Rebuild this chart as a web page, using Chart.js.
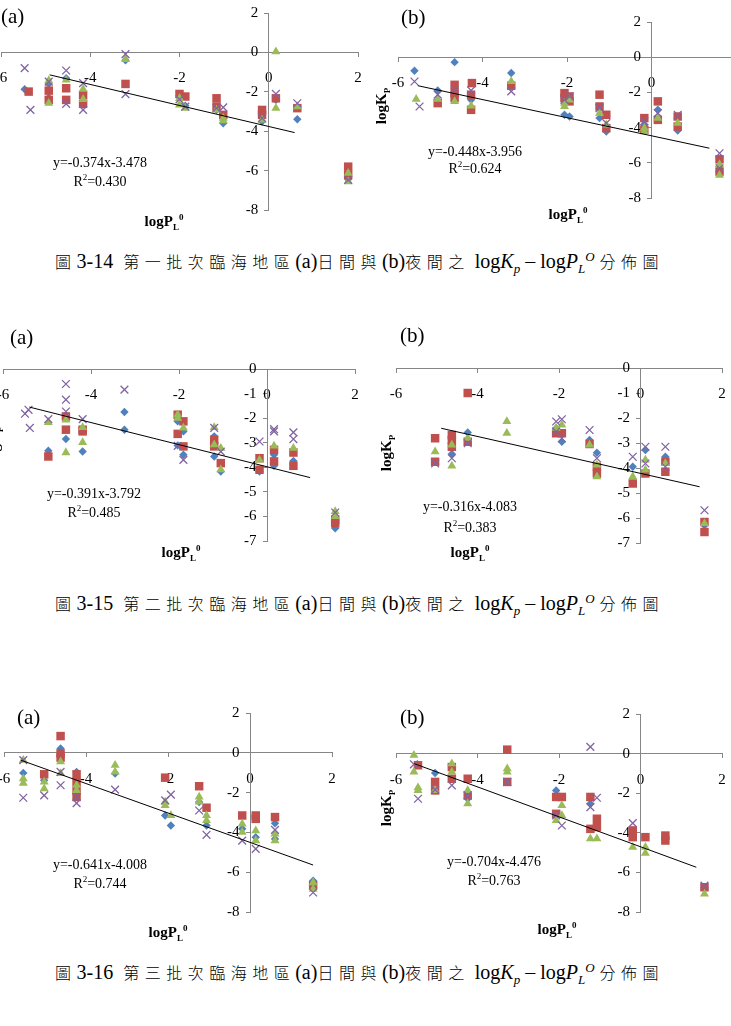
<!DOCTYPE html>
<html>
<head>
<meta charset="utf-8">
<script src="https://cdn.jsdelivr.net/npm/chart.js@4.4.1/dist/chart.umd.min.js"></script>
<style>
  body { margin: 0; width: 731px; height: 1026px; overflow: hidden; background: #fff; position: relative; font-family: 'Liberation Serif', serif; color: #000; }
  canvas { position: absolute; }
  .lbl { position: absolute; white-space: nowrap; transform: translate(-50%, -50%); font-size: 14px; line-height: 1; }
  .tag { position: absolute; font-size: 21px; line-height: 1; transform: translateY(-50%); }
  .ttl { position: absolute; white-space: nowrap; transform: translate(-50%, -50%); font-size: 15px; font-weight: bold; line-height: 1; }
  .ttl.rot { transform: translate(-50%, -50%) rotate(-90deg); }
  .ttl sub, .ttl sup, .lbl sup { font-size: 9px; }
  .cap { position: absolute; white-space: nowrap; font-size: 20px; line-height: 1; transform: translateY(-50%);
         font-family: 'Liberation Serif', serif; }
  .cap .zh { font-family: 'Noto Sans CJK TC', sans-serif; font-weight: 300; font-size: 16px; letter-spacing: 5.5px; }
  .cap sub, .cap sup { font-size: 13px; }
</style>
</head>
<body>
<script>
/* -------------------------------------------------------------
 * DATA
 * ------------------------------------------------------------- */
const xTicks = [ -6, -4, -2, 0, 2 ];

// 圖 3-14 (a) 日間
const a14BlueX = [ -5.47, -4.93, -4.93, -4.54, -4.16, -3.21, -2.0, -1.87, -1.17, -1.02, -0.15, 0.16, 0.64, 1.78 ];
const a14BlueY = [ -1.87, -1.6, -2.3, -1.31, -2.07, -0.4, -2.28, -2.71, -2.92, -3.6, -3.51, -2.41, -3.39, -6.44 ];
const a14RedX = [ -5.38, -4.93, -4.93, -4.54, -4.54, -4.16, -4.16, -3.21, -2.0, -1.87, -1.17, -1.17, -1.02, -0.15, -0.15, 0.16, 0.64, 1.78, 1.78 ];
const a14RedY = [ -1.99, -1.94, -2.41, -1.82, -2.41, -2.16, -2.61, -1.6, -2.11, -2.24, -2.33, -2.75, -3.17, -2.92, -3.17, -2.33, -2.83, -5.8, -6.22 ];
const a14GreenX = [ -4.93, -4.93, -4.54, -4.16, -4.16, -3.21, -2.0, -2.0, -1.87, -1.17, -1.02, -1.02, -0.15, 0.16, 0.16, 0.64, 1.78, 1.78 ];
const a14GreenY = [ -1.43, -2.58, -1.4, -1.87, -2.38, -0.35, -2.33, -2.66, -2.83, -2.92, -3.34, -3.46, -3.43, 0.04, -2.83, -2.75, -6.13, -6.56 ];
const a14PurpleX = [ -5.47, -5.34, -4.93, -4.54, -4.54, -4.16, -4.16, -3.21, -3.21, -2.0, -1.87, -1.17, -1.02, -0.15, 0.16, 0.64, 1.78 ];
const a14PurpleY = [ -0.8, -2.92, -1.48, -0.92, -2.61, -1.56, -2.92, -0.09, -2.12, -2.38, -2.75, -2.83, -2.79, -3.34, -2.11, -2.58, -6.47 ];
const a14TrendX = [ -4.91, 0.58 ];
const a14TrendY = [ -1.14, -4.07 ];

// 圖 3-14 (b) 夜間
const b14BlueX = [ -5.61, -5.06, -4.66, -4.66, -4.27, -3.32, -2.06, -1.94, -1.23, -1.07, -0.17, 0.15, 0.62, 1.61 ];
const b14BlueY = [ -0.77, -1.89, -0.28, -1.94, -2.42, -0.9, -3.27, -3.37, -3.46, -4.22, -3.84, -2.99, -4.17, -6.2 ];
const b14RedX = [ -5.06, -4.66, -4.66, -4.66, -4.25, -4.27, -4.27, -3.32, -2.06, -2.06, -1.94, -1.94, -1.23, -1.23, -1.07, -1.07, -0.17, -0.17, 0.15, 0.15, 0.62, 0.62, 1.61, 1.61 ];
const b14RedY = [ -2.61, -1.57, -2.04, -2.32, -1.47, -2.13, -2.99, -1.62, -2.04, -2.32, -2.23, -2.51, -2.13, -2.8, -3.27, -4.03, -3.46, -4.13, -2.51, -3.56, -3.37, -3.94, -5.8, -6.5 ];
const b14GreenX = [ -5.57, -5.06, -4.66, -4.27, -3.32, -2.06, -2.06, -1.94, -1.23, -1.07, -0.17, -0.17, 0.15, 0.62, 1.61, 1.61 ];
const b14GreenY = [ -2.38, -2.38, -2.51, -2.76, -1.38, -2.61, -2.8, -2.42, -3.18, -3.84, -4.03, -4.22, -3.46, -3.75, -6.1, -6.7 ];
const b14PurpleX = [ -5.61, -5.49, -5.06, -4.66, -4.27, -3.32, -2.06, -1.94, -1.23, -1.07, -0.17, 0.15, 0.62, 1.61, 1.61 ];
const b14PurpleY = [ -1.38, -2.8, -2.13, -1.85, -1.89, -1.94, -2.42, -2.23, -2.89, -3.75, -3.65, -3.18, -3.27, -5.46, -6.31 ];
const b14TrendX = [ -5.53, 1.37 ];
const b14TrendY = [ -1.62, -5.17 ];

// 圖 3-15 (a) 日間
const a15BlueX = [ -4.97, -4.57, -4.19, -3.24, -3.24, -2.03, -2.03, -1.9, -1.9, -1.2, -1.2, -1.05, -0.17, 0.16, 0.16, 0.6, 1.55 ];
const a15BlueY = [ -3.33, -2.85, -3.36, -1.75, -2.47, -2.13, -3.11, -2.54, -3.49, -2.74, -3.56, -4.17, -4.17, -3.49, -3.94, -3.74, -6.48 ];
const a15RedX = [ -4.97, -4.57, -4.57, -4.19, -4.19, -2.03, -2.03, -1.9, -1.9, -1.2, -1.2, -1.05, -0.17, -0.17, 0.16, 0.16, 0.6, 0.6, 1.55, 1.55 ];
const a15RedY = [ -3.56, -1.93, -2.47, -2.47, -2.54, -1.86, -2.64, -2.13, -3.15, -2.88, -3.15, -3.83, -3.63, -4.1, -3.29, -3.76, -3.4, -3.94, -6.14, -6.28 ];
const a15GreenX = [ -4.97, -4.57, -4.57, -4.19, -4.19, -2.03, -2.03, -1.9, -1.2, -1.2, -1.05, -1.05, -0.17, 0.16, 0.6, 1.55, 1.55 ];
const a15GreenY = [ -2.17, -2.07, -3.4, -2.38, -2.99, -1.86, -2.0, -2.4, -2.38, -3.08, -3.22, -4.1, -3.7, -3.13, -3.22, -5.8, -6.0 ];
const a15PurpleX = [ -5.5, -5.42, -5.39, -4.97, -4.57, -4.57, -4.57, -4.19, -3.24, -2.03, -1.9, -1.2, -1.05, -0.17, 0.16, 0.16, 0.6, 0.6, 1.55 ];
const a15PurpleY = [ -1.82, -1.66, -2.4, -2.04, -0.61, -1.25, -1.73, -2.04, -0.84, -3.13, -3.7, -2.4, -3.36, -2.95, -2.45, -2.54, -2.58, -2.85, -5.84 ];
const a15TrendX = [ -5.4, 0.98 ];
const a15TrendY = [ -1.55, -4.42 ];

// 圖 3-15 (b) 夜間
const b15BlueX = [ -4.63, -4.24, -2.07, -1.93, -1.25, -1.07, -0.19, 0.12, 0.61, 1.57 ];
const b15BlueY = [ -3.44, -2.58, -2.41, -2.95, -2.88, -3.39, -3.95, -3.28, -3.55, -6.29 ];
const b15RedX = [ -5.04, -5.04, -4.63, -4.63, -4.63, -4.24, -4.24, -2.07, -1.93, -1.25, -1.07, -1.07, -0.19, 0.12, 0.61, 0.61, 1.57, 1.57 ];
const b15RedY = [ -2.81, -3.75, -2.68, -2.88, -3.15, -1.0, -2.95, -2.61, -2.61, -3.04, -3.95, -4.22, -4.62, -4.22, -3.75, -4.15, -6.16, -6.56 ];
const b15GreenX = [ -5.04, -4.63, -4.63, -4.24, -3.28, -3.28, -2.07, -1.93, -1.25, -1.07, -1.07, -0.19, 0.12, 0.12, 0.61, 1.57 ];
const b15GreenY = [ -3.35, -3.08, -3.92, -2.81, -2.14, -2.61, -2.41, -2.28, -3.08, -3.88, -4.35, -4.35, -3.68, -4.08, -3.82, -6.22 ];
const b15PurpleX = [ -5.04, -4.63, -4.24, -2.07, -2.07, -1.93, -1.93, -1.25, -1.07, -0.19, 0.12, 0.12, 0.61, 0.61, 1.57 ];
const b15PurpleY = [ -3.82, -3.61, -3.01, -2.14, -2.54, -2.05, -2.81, -2.48, -3.61, -3.55, -3.15, -3.82, -3.15, -3.95, -5.69 ];
const b15TrendX = [ -4.89, 1.45 ];
const b15TrendY = [ -2.41, -4.75 ];

// 圖 3-16 (a) 日間
const a16BlueX = [ -5.53, -5.02, -4.62, -4.23, -3.29, -2.07, -1.93, -1.24, -1.06, -0.19, 0.14, 0.61, 0.61, 1.54 ];
const a16BlueY = [ -1.01, -1.38, 0.22, -0.96, -1.04, -3.15, -3.65, -2.47, -3.65, -3.82, -4.24, -3.54, -4.33, -6.43 ];
const a16RedX = [ -5.02, -4.62, -4.62, -4.62, -4.23, -4.23, -4.23, -4.23, -2.07, -1.24, -1.06, -0.19, 0.14, 0.14, 0.61, 1.54 ];
const a16RedY = [ -1.08, 0.84, -0.03, -0.24, -1.08, -1.46, -1.89, -2.22, -1.25, -1.68, -2.76, -3.15, -3.15, -3.32, -3.23, -6.65 ];
const a16GreenX = [ -5.53, -5.53, -5.53, -5.02, -5.02, -4.62, -4.62, -4.23, -4.23, -3.29, -3.29, -2.07, -2.07, -1.93, -1.24, -1.24, -1.06, -1.06, -0.19, -0.19, 0.14, 0.14, 0.61, 0.61, 1.54, 1.54 ];
const a16GreenY = [ -0.37, -1.3, -1.52, -1.46, -1.8, -0.45, -1.04, -1.63, -1.89, -0.62, -0.96, -2.47, -2.64, -3.15, -2.22, -2.47, -3.15, -3.4, -3.57, -3.99, -3.91, -4.41, -4.07, -4.41, -6.52, -6.85 ];
const a16PurpleX = [ -5.53, -5.53, -5.02, -4.62, -4.62, -4.23, -4.23, -3.29, -2.07, -1.93, -1.24, -1.06, -0.19, 0.14, 0.61, 1.54 ];
const a16PurpleY = [ -0.37, -2.26, -2.14, -0.96, -1.63, -2.22, -2.53, -1.85, -2.39, -2.1, -2.9, -4.12, -4.41, -4.83, -3.87, -7.02 ];
const a16TrendX = [ -5.59, 1.54 ];
const a16TrendY = [ -0.37, -5.64 ];

// 圖 3-16 (b) 夜間
const b16BlueX = [ -5.04, -4.24, -2.07, -1.23, 0.12, 1.57 ];
const b16BlueY = [ -0.98, -2.28, -1.86, -2.53, -4.22, -6.75 ];
const b16RedX = [ -5.46, -5.04, -5.04, -4.63, -4.63, -4.24, -4.24, -3.27, -3.27, -2.07, -2.07, -1.93, -1.23, -1.23, -1.07, -1.07, -0.19, -0.19, 0.12, 0.61, 0.61, 1.57 ];
const b16RedY = [ -0.59, -1.43, -1.86, -0.68, -1.27, -1.27, -2.11, 0.2, -1.43, -2.19, -3.04, -2.19, -2.19, -3.8, -3.29, -3.71, -3.88, -4.22, -4.22, -4.14, -4.39, -6.75 ];
const b16GreenX = [ -5.56, -5.56, -5.46, -5.46, -5.04, -4.63, -4.63, -4.24, -4.24, -3.27, -3.27, -2.07, -1.93, -1.93, -1.23, -1.07, -0.19, 0.12, 0.12, 1.57 ];
const b16GreenY = [ -0.08, -0.93, -1.72, -1.86, -1.86, -0.51, -0.93, -1.86, -2.53, -0.76, -0.93, -3.38, -2.62, -3.12, -4.3, -4.3, -4.73, -4.73, -5.03, -7.09 ];
const b16PurpleX = [ -5.56, -5.46, -5.04, -4.63, -4.24, -3.27, -2.07, -1.93, -1.23, -1.23, -1.07, -0.19, 1.57 ];
const b16PurpleY = [ -0.54, -2.28, -1.82, -1.6, -2.11, -1.43, -3.12, -3.63, 0.34, -2.7, -2.23, -3.51, -6.67 ];
const b16TrendX = [ -5.55, 1.37 ];
const b16TrendY = [ -0.51, -5.74 ];

/* -------------------------------------------------------------
 * PANEL SETUP
 * ------------------------------------------------------------- */
const AXIS = '#868686';
const TICK_FONT = { family: 'Liberation Serif', size: 15 };

function pts( xs, ys ) {
	return xs.map( ( x, i ) => ( { x, y: ys[ i ] } ) );
}

function addPanel( p ) {
	const pad = 24;
	const [ l, r, t, b ] = p.area;
	const cv = document.createElement( 'canvas' );
	cv.width = Math.round( r - l + 2 * pad );
	cv.height = Math.round( b - t + 2 * pad );
	cv.style.left = ( l - pad ) + 'px';
	cv.style.top = ( t - pad ) + 'px';
	document.body.appendChild( cv );

	const series = ( data, style, color, radius, order ) => ( {
		data,
		pointStyle: style,
		pointRadius: radius,
		pointHoverRadius: radius,
		backgroundColor: color,
		borderColor: color,
		borderWidth: style === 'crossRot' ? 1.3 : 0,
		order,
		clip: false
	} );

	new Chart( cv, {
		type: 'scatter',
		data: {
			datasets: [
				{
					data: pts( p.trendX, p.trendY ),
					showLine: true,
					borderColor: '#000',
					borderWidth: 1,
					pointRadius: 0,
					order: 0,
					clip: false
				},
				series( pts( p.purpleX, p.purpleY ), 'crossRot', '#8064A2', 5.5, 1 ),
				series( pts( p.greenX, p.greenY ), 'triangle', '#9BBB59', 5.2, 2 ),
				series( pts( p.redX, p.redY ), 'rect', '#C0504D', 6, 3 ),
				series( pts( p.blueX, p.blueY ), 'rectRot', '#4F81BD', 4.2, 4 )
			]
		},
		options: {
			responsive: false,
			animation: false,
			layout: { padding: pad },
			plugins: { legend: { display: false }, tooltip: { enabled: false } },
			scales: {
				x: {
					type: 'linear',
					min: -6,
					max: 2,
					position: { y: 0 },
					afterFit: ( s ) => { s.height = 0; },
					afterBuildTicks: ( s ) => { s.ticks = xTicks.map( ( v ) => ( { value: v } ) ); },
					ticks: { color: '#000', font: TICK_FONT, padding: 13, maxRotation: 0 },
					grid: { drawOnChartArea: false, tickLength: 4, color: AXIS },
					border: { color: AXIS }
				},
				y: {
					type: 'linear',
					min: p.yTicks[ p.yTicks.length - 1 ],
					max: p.yTicks[ 0 ],
					position: { x: 0 },
					afterFit: ( s ) => { s.width = 0; },
					afterBuildTicks: ( s ) => { s.ticks = p.yTicks.map( ( v ) => ( { value: v } ) ); },
					// labels sit left of the crossing axis, as in Excel
					ticks: { color: '#000', font: TICK_FONT, padding: 4, callback: ( v ) => v + '\u2002\u2009' },
					grid: { drawOnChartArea: false, tickLength: 4, color: AXIS },
					border: { color: AXIS }
				}
			}
		}
	} );
}

function addText( cls, html, x, y ) {
	const d = document.createElement( 'div' );
	d.className = cls;
	d.innerHTML = html;
	d.style.left = x + 'px';
	d.style.top = y + 'px';
	document.body.appendChild( d );
}

const evenTicks = [ 2, 0, -2, -4, -6, -8 ];
const unitTicks = [ 0, -1, -2, -3, -4, -5, -6, -7 ];
const xTitle = 'logP<sub>L</sub><sup>0</sup>';
const yTitle = 'logK<sub>P</sub>';

const panels = [
	{ area: [ 1, 358, 13, 210 ], yTicks: evenTicks,
		blueX: a14BlueX, blueY: a14BlueY, redX: a14RedX, redY: a14RedY,
		greenX: a14GreenX, greenY: a14GreenY, purpleX: a14PurpleX, purpleY: a14PurpleY,
		trendX: a14TrendX, trendY: a14TrendY,
		tag: [ '(a)', 1, 16 ], eq: [ 'y=-0.374x-3.478', 'R<sup>2</sup>=0.430', 100, 163, 181 ],
		xt: [ 164, 222 ], yt: null },
	{ area: [ 398, 736, 22, 198 ], yTicks: evenTicks,
		blueX: b14BlueX, blueY: b14BlueY, redX: b14RedX, redY: b14RedY,
		greenX: b14GreenX, greenY: b14GreenY, purpleX: b14PurpleX, purpleY: b14PurpleY,
		trendX: b14TrendX, trendY: b14TrendY,
		tag: [ '(b)', 401, 17 ], eq: [ 'y=-0.448x-3.956', 'R<sup>2</sup>=0.624', 475, 152, 168 ],
		xt: [ 568, 215 ], yt: [ 383, 106 ] },
	{ area: [ 3, 355, 369, 541 ], yTicks: unitTicks,
		blueX: a15BlueX, blueY: a15BlueY, redX: a15RedX, redY: a15RedY,
		greenX: a15GreenX, greenY: a15GreenY, purpleX: a15PurpleX, purpleY: a15PurpleY,
		trendX: a15TrendX, trendY: a15TrendY,
		tag: [ '(a)', 10, 337 ], eq: [ 'y=-0.391x-3.792', 'R<sup>2</sup>=0.485', 94, 494, 512 ],
		xt: [ 181, 553 ], yt: [ -4, 445 ] },
	{ area: [ 396, 722, 368, 543 ], yTicks: unitTicks,
		blueX: b15BlueX, blueY: b15BlueY, redX: b15RedX, redY: b15RedY,
		greenX: b15GreenX, greenY: b15GreenY, purpleX: b15PurpleX, purpleY: b15PurpleY,
		trendX: b15TrendX, trendY: b15TrendY,
		tag: [ '(b)', 400, 335 ], eq: [ 'y=-0.316x-4.083', 'R<sup>2</sup>=0.383', 470, 507, 527 ],
		xt: [ 470, 553 ], yt: [ 388, 453 ] },
	{ area: [ 4, 332, 713, 912 ], yTicks: evenTicks,
		blueX: a16BlueX, blueY: a16BlueY, redX: a16RedX, redY: a16RedY,
		greenX: a16GreenX, greenY: a16GreenY, purpleX: a16PurpleX, purpleY: a16PurpleY,
		trendX: a16TrendX, trendY: a16TrendY,
		tag: [ '(a)', 17, 717 ], eq: [ 'y=-0.641x-4.008', 'R<sup>2</sup>=0.744', 100, 865, 883 ],
		xt: [ 168, 933 ], yt: null },
	{ area: [ 396, 722, 714, 912 ], yTicks: evenTicks,
		blueX: b16BlueX, blueY: b16BlueY, redX: b16RedX, redY: b16RedY,
		greenX: b16GreenX, greenY: b16GreenY, purpleX: b16PurpleX, purpleY: b16PurpleY,
		trendX: b16TrendX, trendY: b16TrendY,
		tag: [ '(b)', 400, 717 ], eq: [ 'y=-0.704x-4.476', 'R<sup>2</sup>=0.763', 494, 862, 880 ],
		xt: [ 557, 930 ], yt: [ 388, 808 ] }
];

panels.forEach( ( p ) => {
	addPanel( p );
	addText( 'tag', p.tag[ 0 ], p.tag[ 1 ], p.tag[ 2 ] );
	addText( 'lbl', p.eq[ 0 ], p.eq[ 2 ], p.eq[ 3 ] );
	addText( 'lbl', p.eq[ 1 ], p.eq[ 2 ], p.eq[ 4 ] );
	addText( 'ttl', xTitle, p.xt[ 0 ], p.xt[ 1 ] );
	if ( p.yt ) addText( 'ttl rot', yTitle, p.yt[ 0 ], p.yt[ 1 ] );
} );

/* -------------------------------------------------------------
 * CAPTIONS
 * ------------------------------------------------------------- */
const captions = [
	[ '3-14', '第一批次臨海地區', 262 ],
	[ '3-15', '第二批次臨海地區', 604 ],
	[ '3-16', '第三批次臨海地區', 973 ]
];
captions.forEach( ( [ num, zh, y ] ) => {
	addText( 'cap',
		'<span class="zh">圖</span>' + num + '&ensp;<span class="zh">' + zh + '</span>(a)<span class="zh">日間與</span>(b)<span class="zh">夜間之</span> ' +
		'log<i>K<sub>p</sub></i> – log<i>P<sub>L</sub><sup>O</sup></i> <span class="zh">分佈圖</span>',
		55, y );
} );
</script>
</body>
</html>
